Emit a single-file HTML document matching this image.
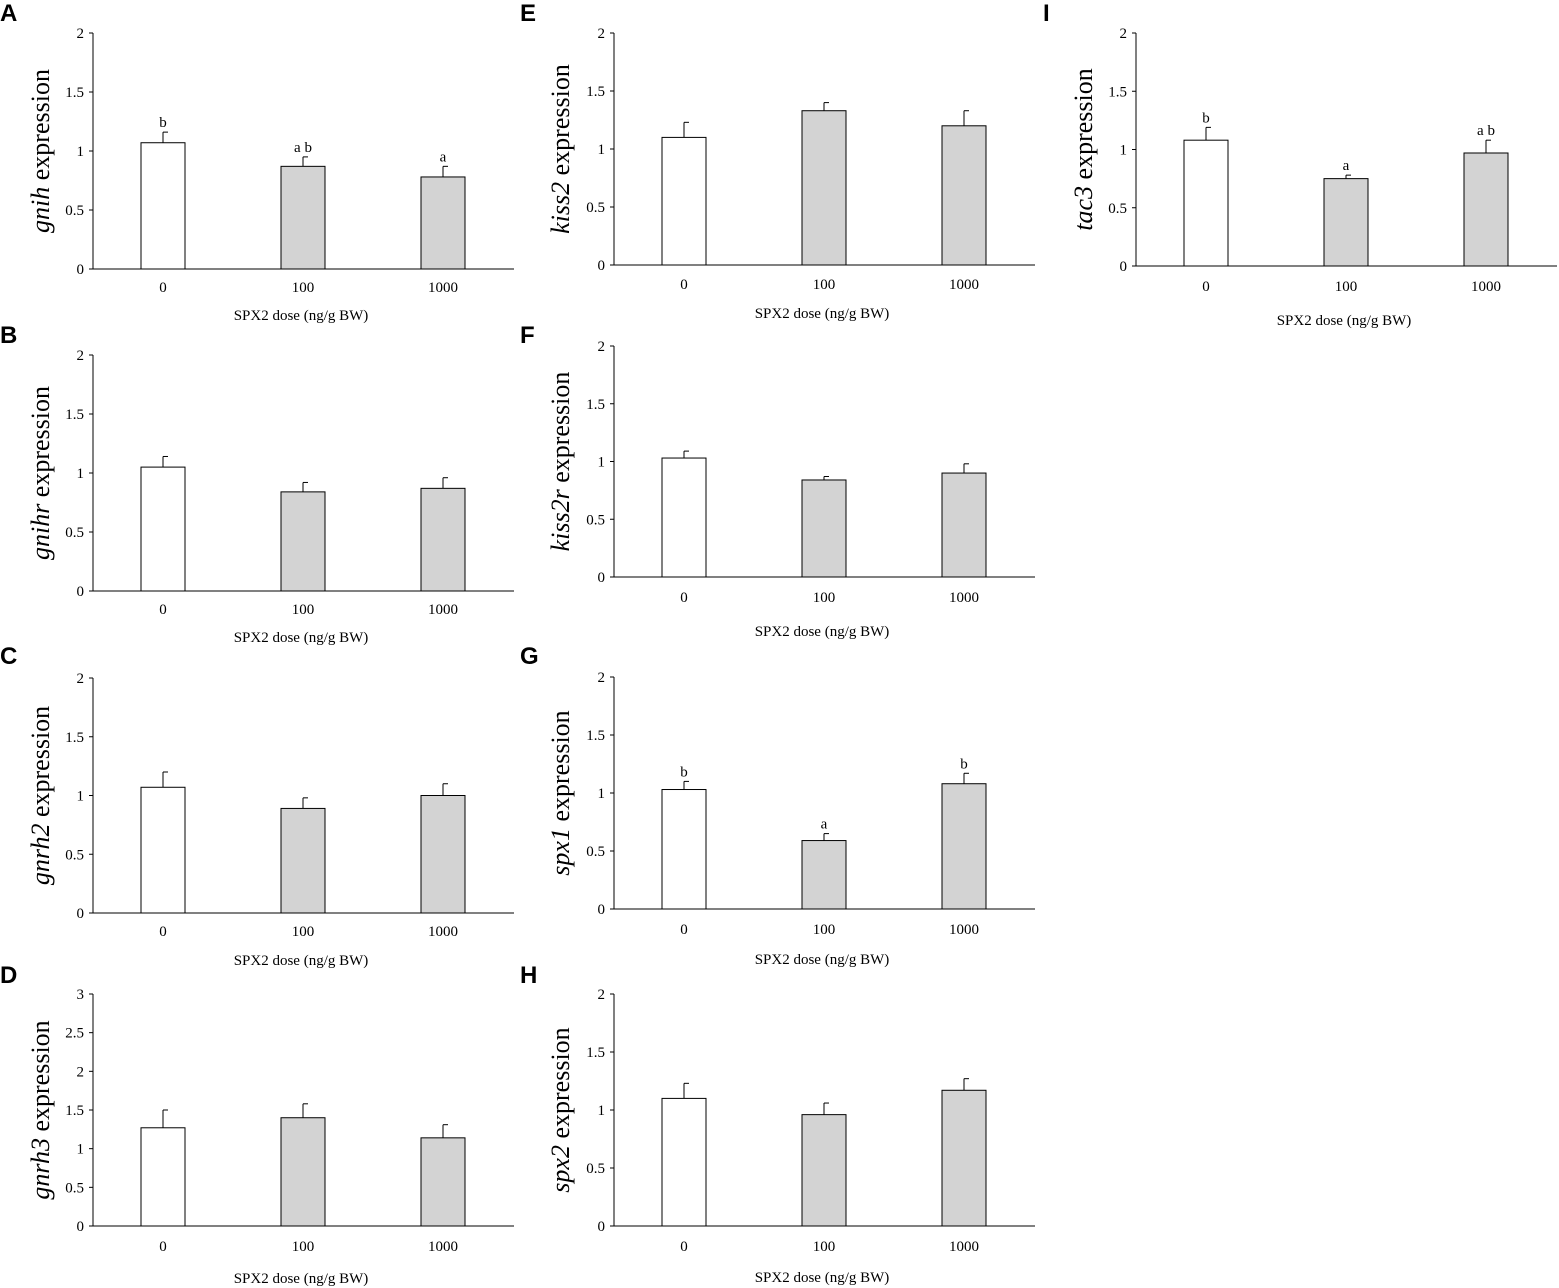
<!DOCTYPE html>
<html><head><meta charset="utf-8"><style>
body{margin:0;background:#fff;width:1559px;height:1288px;overflow:hidden;font-family:"Liberation Serif",serif}
svg{position:absolute;left:0;top:0}
</style></head><body>
<svg id="fig" width="1559" height="1288" xmlns="http://www.w3.org/2000/svg"></svg>
<script>
const categories=["0","100","1000"];
const genes=["gnih","gnihr","gnrh2","gnrh3","kiss2","kiss2r","spx1","spx2","tac3"];
const panelLetters=["A","B","C","D","E","F","G","H","I"];
const means=[[1.07,0.87,0.78],[1.05,0.84,0.87],[1.07,0.89,1.00],[1.27,1.40,1.14],[1.10,1.33,1.20],[1.03,0.84,0.90],[1.03,0.59,1.08],[1.10,0.96,1.17],[1.08,0.75,0.97]];
const errors=[[0.09,0.08,0.09],[0.09,0.08,0.09],[0.13,0.09,0.10],[0.23,0.18,0.17],[0.13,0.07,0.13],[0.06,0.03,0.08],[0.07,0.06,0.09],[0.13,0.10,0.10],[0.11,0.03,0.11]];
const sigLetters=[["b","a b","a"],null,null,null,null,null,["b","a","b"],null,["b","a","a b"]];
const yMax=[2,2,2,3,2,2,2,2,2];
const yTicks2=["0","0.5","1","1.5","2"];
const yTicks3=["0","0.5","1","1.5","2","2.5","3"];
// layout: [axisX, yTop, yZero, tickLabelY, titleY, letterX, letterY, ylabX]
const layout=[[93,33,269,292,320,0,0,40],[93,355,591,614,642,0,322,40],[93,678,913,936,965,0,643,40],[93,994,1226,1251,1283,0,962,40],[614,33,265,289,318,520,0,560],[614,346,577,602,636,520,322,560],[614,677,909,934,964,520,643,560],[614,994,1226,1251,1282,520,962,560],[1136,33,266,291,325,1043,0,1083]];
const NS="http://www.w3.org/2000/svg";
const svg=document.getElementById('fig');
function mk(t,a,p){const e=document.createElementNS(NS,t);for(const k in a)e.setAttribute(k,a[k]);(p||svg).appendChild(e);return e;}
genes.forEach((g,i)=>{
 const [ax,yt,y0,tly,tty,lx,ly,ylx]=layout[i];
 const grp=mk('g',{});
 
 
 const ys=v=>y0-(v/yMax[i])*(y0-yt);
 const xs=j=>ax+70+j*140;
 const L=mk('text',{x:lx,y:ly+21,'font-family':'Liberation Sans,sans-serif','font-weight':'bold','font-size':24},grp);L.textContent=panelLetters[i];
 
 const ticks=yMax[i]==3?yTicks3:yTicks2;
 ticks.forEach(t=>{const y=ys(parseFloat(t));
  mk('line',{x1:ax-4,x2:ax,y1:y,y2:y,stroke:'#000','stroke-width':1},grp);
  const tx=mk('text',{x:ax-9,y:y+5,'text-anchor':'end','font-size':15},grp);tx.textContent=t;
  });
 mk('line',{x1:ax,x2:ax,y1:yt,y2:y0,stroke:'#000','stroke-width':1},grp);
 mk('line',{x1:ax,x2:ax+421,y1:y0,y2:y0,stroke:'#000','stroke-width':1},grp);
 categories.forEach((c,j)=>{
  const cx=xs(j),m=means[i][j],e=errors[i][j];
  const b=mk('rect',{x:cx-22,y:ys(m),width:44,height:y0-ys(m),fill:j==0?'#fff':'#d3d3d3',stroke:'#000','stroke-width':1},grp);
  
  mk('line',{x1:cx,x2:cx,y1:ys(m),y2:ys(m+e),stroke:'#000','stroke-width':1},grp);
  mk('line',{x1:cx,x2:cx+5,y1:ys(m+e),y2:ys(m+e),stroke:'#000','stroke-width':1},grp);
  if(sigLetters[i]){const s=mk('text',{x:cx,y:ys(m+e)-5,'text-anchor':'middle','font-size':15},grp);s.textContent=sigLetters[i][j];
   }
  const xt=mk('text',{x:cx,y:tly,'text-anchor':'middle','font-size':15},grp);xt.textContent=c;
  
 });
 const xtl=mk('text',{x:xs(1)-2,y:tty,'text-anchor':'middle','font-size':15},grp);xtl.textContent='SPX2 dose (ng/g BW)';
 
 const yc=(yt+y0)/2;
 const ytl=mk('text',{x:ylx,y:yc,'text-anchor':'middle','font-size':26,transform:`rotate(-90 ${ylx} ${yc})`,dy:9},grp);
 
 const it=mk('tspan',{'font-style':'italic'},ytl);it.textContent=g;
 const rest=mk('tspan',{},ytl);rest.textContent=' expression';
});
</script>
</body></html>
